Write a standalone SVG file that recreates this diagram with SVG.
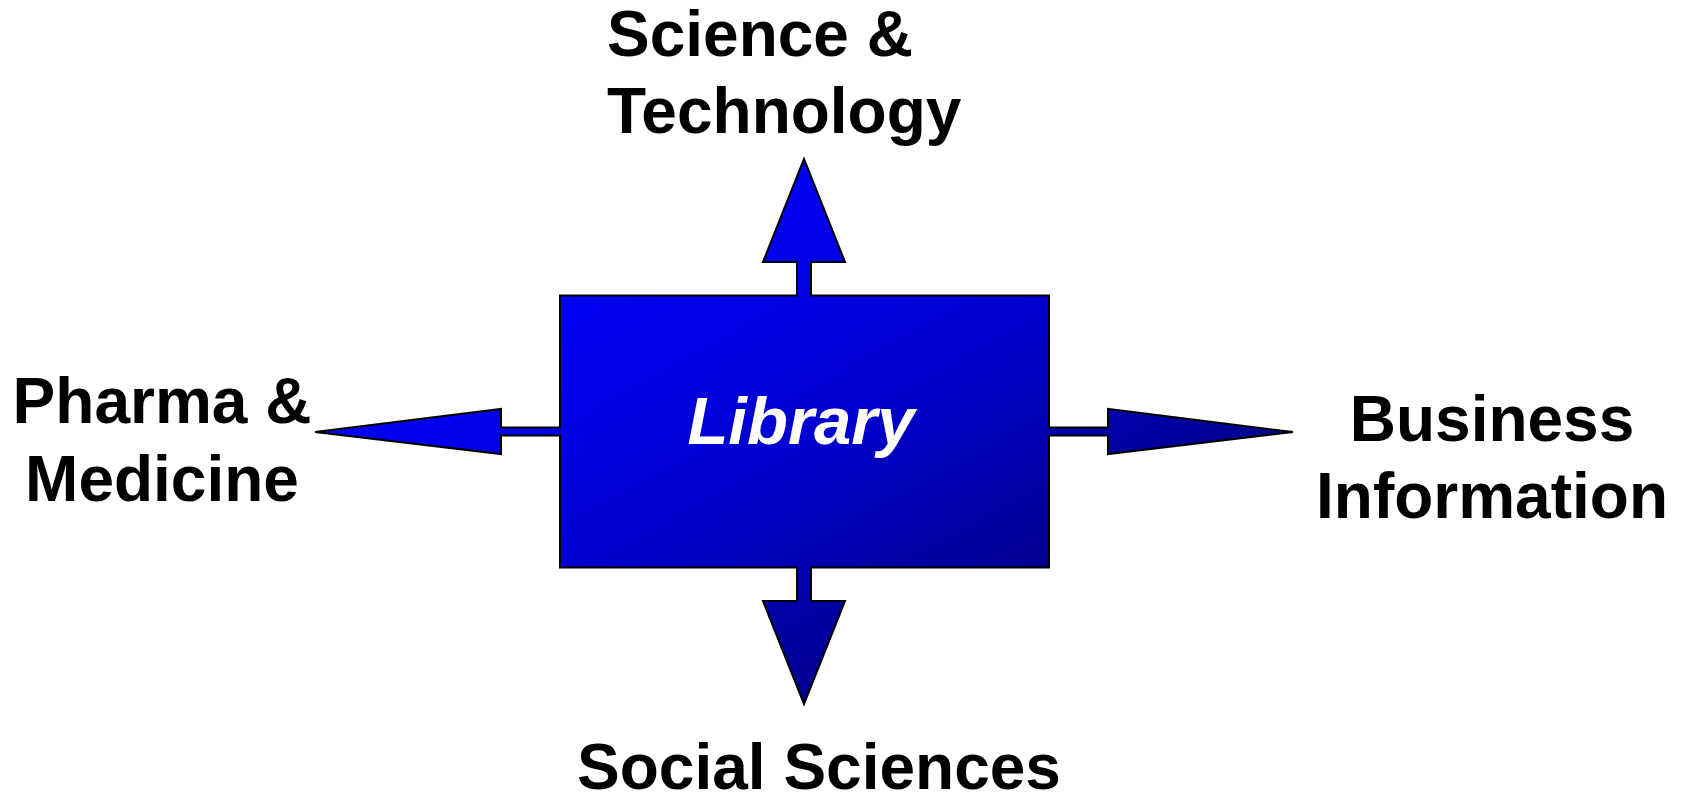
<svg xmlns="http://www.w3.org/2000/svg" width="1686" height="795" viewBox="0 0 1686 795">
  <defs>
    <linearGradient id="blueGrad" gradientUnits="userSpaceOnUse" x1="560" y1="295" x2="791" y2="710.5">
      <stop offset="0" stop-color="#0000F6"/>
      <stop offset="0.5" stop-color="#0000D0"/>
      <stop offset="1" stop-color="#00008E"/>
    </linearGradient>
    <style>
      .shape { fill: url(#blueGrad); stroke: #000000; stroke-width: 2; stroke-linejoin: miter; }
      .patch { fill: url(#blueGrad); stroke: none; }
      .label { font-family: "Liberation Sans", Arial, sans-serif; font-weight: bold; font-size: 64px; fill: #000000; }
      .center { text-anchor: middle; }
      .title { font-family: "Liberation Sans", Arial, sans-serif; font-weight: bold; font-style: italic; font-size: 67px; fill: #FFFFFF; text-anchor: middle; }
    </style>
  </defs>
  <rect width="1686" height="795" fill="#FFFFFF"/>

  <g id="connectors">
    <path id="arrow-up" class="shape" d="M797,297 L797,262 L763,262 L804,159 L845,262 L811,262 L811,297 Z"/>
    <path id="arrow-down" class="shape" d="M797,566 L797,601 L763,601 L804,704 L845,601 L811,601 L811,566 Z"/>
    <path id="arrow-left" class="shape" d="M562,427.5 L501,427.5 L501,409 L315,432 L501,454 L501,435.5 L562,435.5 Z"/>
    <path id="arrow-right" class="shape" d="M1047,427.5 L1108,427.5 L1108,409 L1293,432 L1108,454 L1108,435.5 L1047,435.5 Z"/>
  </g>

  <g id="node-library">
    <rect class="shape" x="560" y="295.5" width="489" height="272"/>
    <rect class="patch" x="798" y="292" width="12" height="8"/>
    <rect class="patch" x="798" y="563" width="12" height="8"/>
    <rect class="patch" x="556" y="428.5" width="8" height="6"/>
    <rect class="patch" x="1045" y="428.5" width="8" height="6"/>
    <text class="title" x="801" y="444">Library</text>
  </g>

  <g id="node-science">
    <text class="label" x="607" y="56">Science &amp;</text>
    <text class="label" x="607" y="133">Technology</text>
  </g>

  <g id="node-pharma">
    <text class="label center" x="162" y="423">Pharma &amp;</text>
    <text class="label center" x="162" y="501">Medicine</text>
  </g>

  <g id="node-business">
    <text class="label center" x="1492" y="441">Business</text>
    <text class="label center" x="1492" y="518">Information</text>
  </g>

  <g id="node-social">
    <text class="label center" x="819" y="789">Social Sciences</text>
  </g>
</svg>
